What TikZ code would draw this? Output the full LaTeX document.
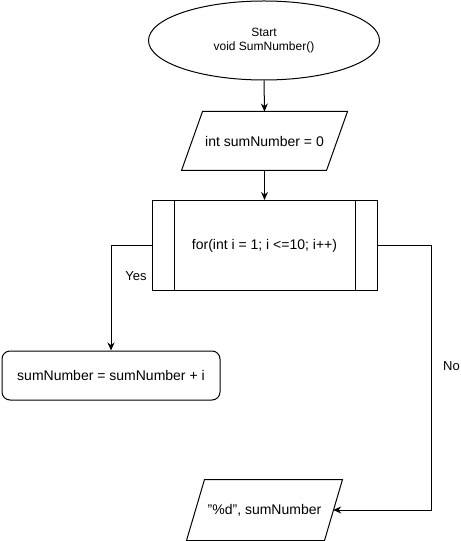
\documentclass[tikz,border=0pt]{standalone}
\usepackage{fontspec}
\setmainfont{Liberation Sans}
\usetikzlibrary{arrows.meta,shapes.geometric,positioning,calc}
\newcommand{\txtbig}{\fontsize{10.5}{12.6}\selectfont}
\newcommand{\txtsmall}{\fontsize{9}{10.5}\selectfont}
\newcommand{\txtlbl}{\fontsize{9.75}{11.7}\selectfont}

\begin{document}
\begin{tikzpicture}[x=0.75pt,y=-0.75pt,line width=0.75pt,
  startbox/.style={ellipse,draw,minimum width=173.25pt,minimum height=59.25pt,
                   align=center,font=\txtsmall,inner sep=0pt},
  % parallelogram drawn round an invisible box, #1 = slant
  iobox/.style={rectangle,font=\txtbig,inner sep=0pt,
                append after command={\pgfextra{
                  \draw ([xshift=#1]\tikzlastnode.north west) -- (\tikzlastnode.north east)
                     -- ([xshift=-#1]\tikzlastnode.south east) -- (\tikzlastnode.south west)
                     -- cycle;}}},
  loopbox/.style={rectangle,draw,minimum width=168.75pt,minimum height=67.5pt,
                  font=\txtbig,inner sep=0pt,
                  path picture={
                    \draw ([xshift=16.5pt]path picture bounding box.north west)
                       -- ([xshift=16.5pt]path picture bounding box.south west);
                    \draw ([xshift=-16.5pt]path picture bounding box.north east)
                       -- ([xshift=-16.5pt]path picture bounding box.south east);}},
  procbox/.style={rectangle,rounded corners=6pt,draw,minimum width=163.5pt,
                  minimum height=36.75pt,font=\txtbig,inner sep=0pt},
  lbl/.style={font=\txtlbl,inner sep=0pt},
  arrow/.style={-{Stealth[length=6pt,width=5.25pt]}}]
\useasboundingbox (0,0) rectangle (460,541);
\node[startbox] (start) at (264,40.5) {Start\\void SumNumber()};
\node[iobox=15.75pt,minimum width=123.75pt,minimum height=43.5pt] (init) at (264.5,141) {int sumNumber = 0};
\node[loopbox] (loop) at (264.5,245.5) {for(int i = 1; i <=10; i++)};
\node[procbox] (body) at (111,375.5) {sumNumber = sumNumber + i};
\node[iobox=13.5pt,minimum width=116.25pt,minimum height=45pt] (out) at (264.5,510) {\symbol{34}\%d\symbol{34}, sumNumber};
\draw[arrow] (start.south) -- (init.north);
\draw[arrow] (init.south) -- (loop.north);
\draw[arrow] (loop.west) -| (body.north) node[lbl] at (136,276) {Yes};
\draw[arrow] (loop.east) -- ++(54,0) |- ([xshift=-7pt]out.east) node[lbl] at (451.5,366) {No};
\end{tikzpicture}
\end{document}
